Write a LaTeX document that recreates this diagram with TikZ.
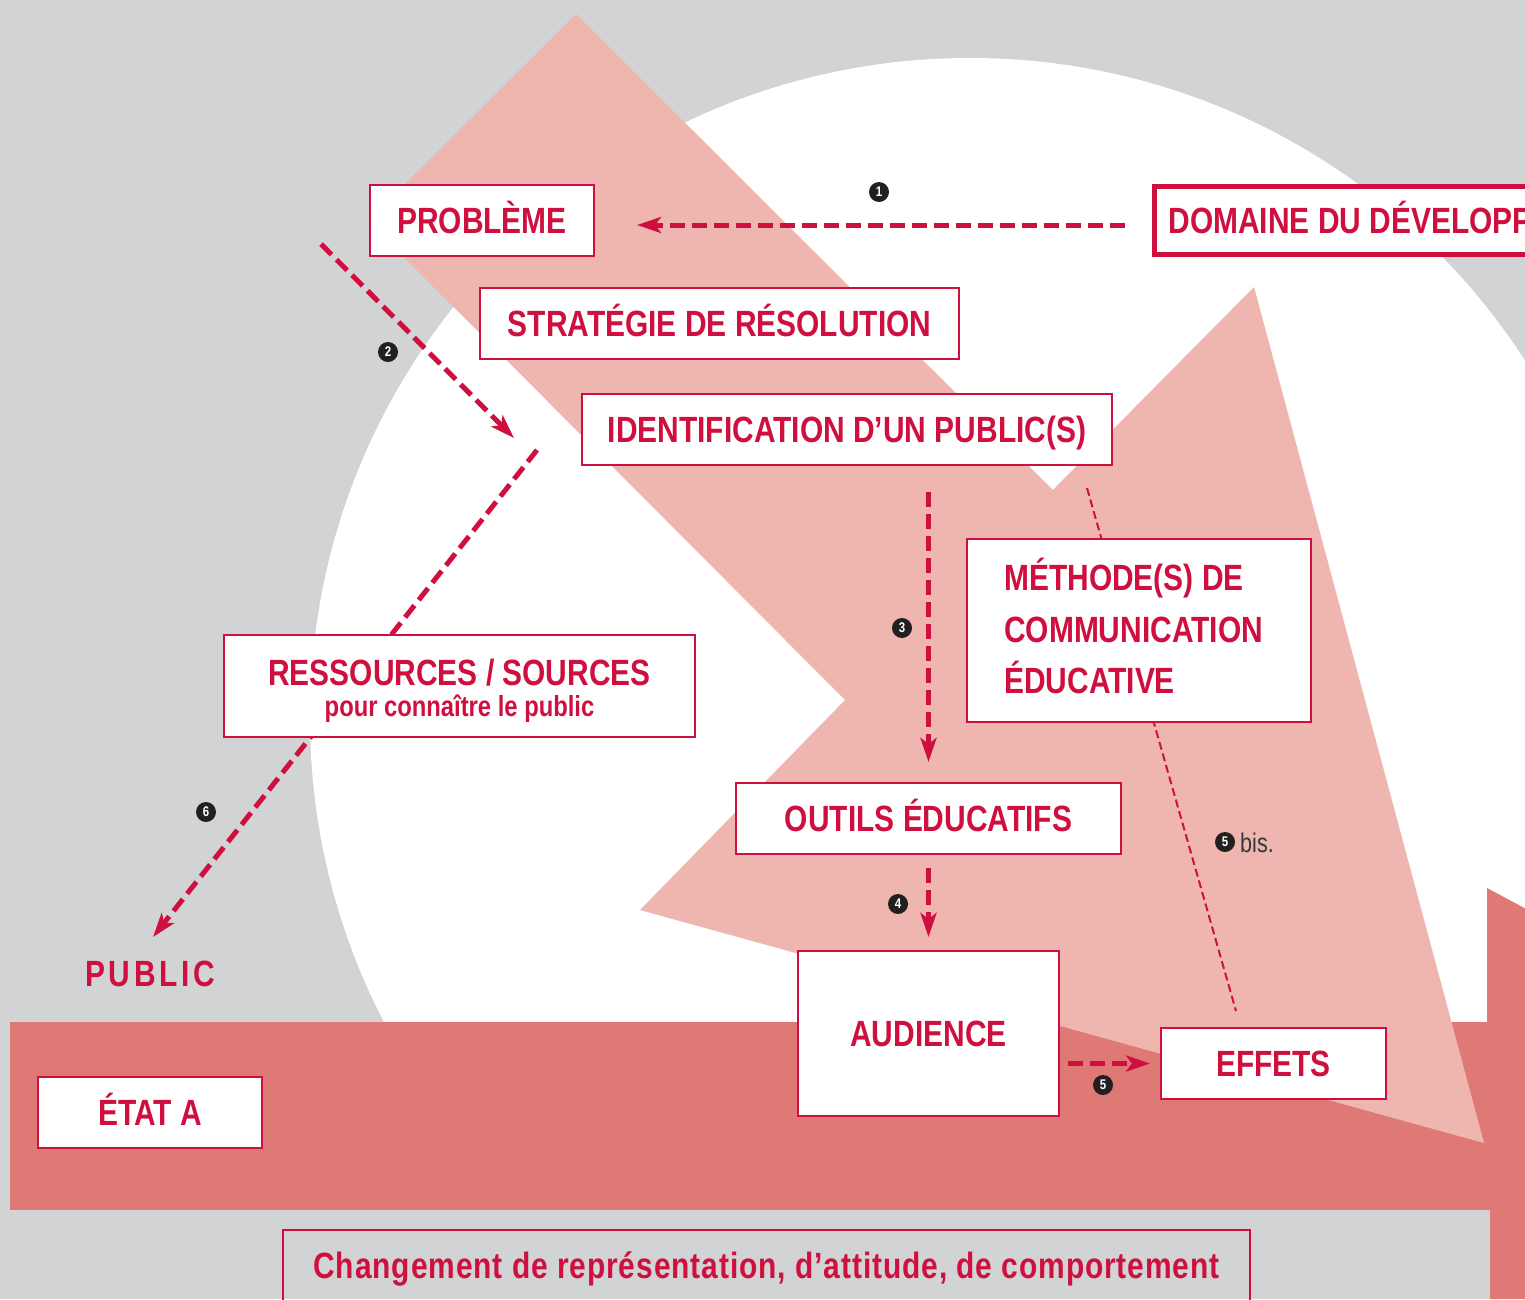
\documentclass[tikz,border=0pt]{standalone}
\usepackage{fontspec}
\usetikzlibrary{arrows.meta,calc}
\newfontfamily\condb{Liberation Sans}[FakeStretch=0.82]
\newfontfamily\condr{Liberation Sans}[FakeStretch=0.80]
\newfontfamily\condls{Liberation Sans}[FakeStretch=0.82,LetterSpace=2.5]
\newfontfamily\condpub{Liberation Sans}[FakeStretch=0.82,LetterSpace=10]
\definecolor{bggray}{RGB}{209,211,213}
\definecolor{pinkl}{RGB}{239,181,175}
\definecolor{bandc}{RGB}{223,121,118}
\definecolor{crim}{RGB}{207,16,63}
\definecolor{numbk}{RGB}{35,31,32}
\definecolor{bisgray}{RGB}{55,55,55}
\tikzset{
  box/.style={draw=crim, line width=2pt, fill=white, inner sep=0pt, text=crim,
    font=\condb\bfseries\fontsize{36.5}{40}\selectfont, text height=26pt, text depth=0pt},
  txt/.style={inner sep=0pt, text=crim, font=\condb\bfseries\fontsize{36.5}{40}\selectfont},
  txtsmall/.style={inner sep=0pt, text=crim, font=\condb\bfseries\fontsize{29}{32}\selectfont},
  darr/.style={draw=crim, line width=5pt, dash pattern=on 15pt off 7pt,
    -{Stealth[length=24pt,width=16pt,inset=6pt]}},
  thindash/.style={draw=crim, line width=2pt, dash pattern=on 8pt off 4pt},
  num/.style={circle, fill=numbk, text=white, inner sep=0pt, minimum size=20pt,
    font=\condb\bfseries\fontsize{14}{14}\selectfont},
}
\begin{document}
\begin{tikzpicture}[x=1pt,y=-1pt]
\useasboundingbox (0,0) rectangle (1525,1299);
\clip (0,0) rectangle (1525,1299);
% background
\fill[bggray] (0,0) rectangle (1525,1299);
\fill[white] (970,718) circle[radius=660];
\fill[bggray] (0,1210) rectangle (1525,1299);
% band arrow
\fill[bandc] (10,1022) rectangle (1490,1210);
\fill[bandc] (1487,888) -- (1530,911) -- (1530,1299) -- (1490,1299) -- (1490,1210) -- (1487,1210) -- cycle;
% pink arrow shape
\fill[pinkl] (576,14) -- (1053,490) -- (1254,287) -- (1484,1143) -- (640,910) -- (845,700) -- (368,221) -- cycle;
% free ends of connectors
\coordinate (a2s) at (321,244);
\coordinate (a2e) at (514,438);
\coordinate (l6s) at (537,450);
\coordinate (l6e) at (153,937);
\coordinate (b5s) at (1087,488);
\coordinate (b5e) at (1236,1011);
% lines behind boxes
\draw[darr] (l6s) -- (l6e);
\draw[thindash] (b5s) -- (b5e);
% boxes
\node[box, minimum width=224pt, minimum height=71pt] (prob) at (482,220.5) {PROBLÈME};
\node[box, line width=5pt, anchor=west, minimum height=68pt, inner xsep=14.5pt] (dom) at (1151.5,220.5) {DOMAINE DU DÉVELOPPEMENT};
\node[box, minimum width=479pt, minimum height=71pt] (strat) at (719.5,323.5) {STRATÉGIE DE RÉSOLUTION};
\node[box, minimum width=530pt, minimum height=71pt] (ident) at (847,429.5) {IDENTIFICATION D’UN PUBLIC(S)};
\node[box, minimum width=344pt, minimum height=183pt] (meth) at (1139,630.5) {};
\node[txt, anchor=base west] (meth1) at (1004,590) {MÉTHODE(S) DE};
\node[txt, anchor=base west] (meth2) at (1004,642) {COMMUNICATION};
\node[txt, anchor=base west] (meth3) at (1004,693) {ÉDUCATIVE};
\node[box, minimum width=471pt, minimum height=102pt] (res) at (459.5,686) {};
\node[txt, anchor=base] (res1) at (459.5,685) {RESSOURCES / SOURCES};
\node[txtsmall, anchor=base] (res2) at (459.5,716) {pour connaître le public};
\node[box, minimum width=385pt, minimum height=71pt] (outils) at (928.5,818.5) {OUTILS ÉDUCATIFS};
\node[box, minimum width=261pt, minimum height=165pt] (aud) at (928.5,1033.5) {AUDIENCE};
\node[box, minimum width=225pt, minimum height=71pt] (eff) at (1273.5,1063.5) {EFFETS};
\node[box, minimum width=224pt, minimum height=71pt] (etat) at (150,1112.5) {ÉTAT A};
\node[inner sep=0pt, text=crim, font=\condpub\bfseries\fontsize{36.5}{40}\selectfont, text height=26pt, text depth=0pt] (public) at (150,973) {PUBLIC};
\draw[crim, line width=2pt] (283,1230) rectangle (1250,1340);
\node[inner sep=0pt, text=crim, font=\condls\bfseries\fontsize{36.5}{40}\selectfont, text height=26pt, text depth=0pt] (chg) at (766.5,1265.5) {Changement de représentation, d’attitude, de comportement};
% arrows
\draw[darr] ($(dom.west)+(-26.5,4.5)$) -- ($(prob.east)+(42,4.5)$);
\draw[darr] (a2s) -- (a2e);
\draw[darr] ($(ident.south -| outils.north)+(0,26)$) -- ($(outils.north)+(0,-20)$);
\draw[darr] ($(outils.south)+(0,13)$) -- ($(aud.north)+(0,-13)$);
\draw[darr] ($(aud.east |- eff.west)+(8,0)$) -- ($(eff.west)+(-10,0)$);
% numbers
\node[num] (n1) at (879,192) {1};
\node[num] (n2) at (388,352) {2};
\node[num] (n3) at (902,628) {3};
\node[num] (n4) at (898,904) {4};
\node[num] (n5) at (1103,1085) {5};
\node[num] (n5b) at (1225,842) {5};
\node[num] (n6) at (206,812) {6};
\node[inner sep=0pt, anchor=base west, text=bisgray, font=\condr\fontsize{27}{30}\selectfont] (bis) at (1240,852) {bis.};
\end{tikzpicture}
\end{document}
